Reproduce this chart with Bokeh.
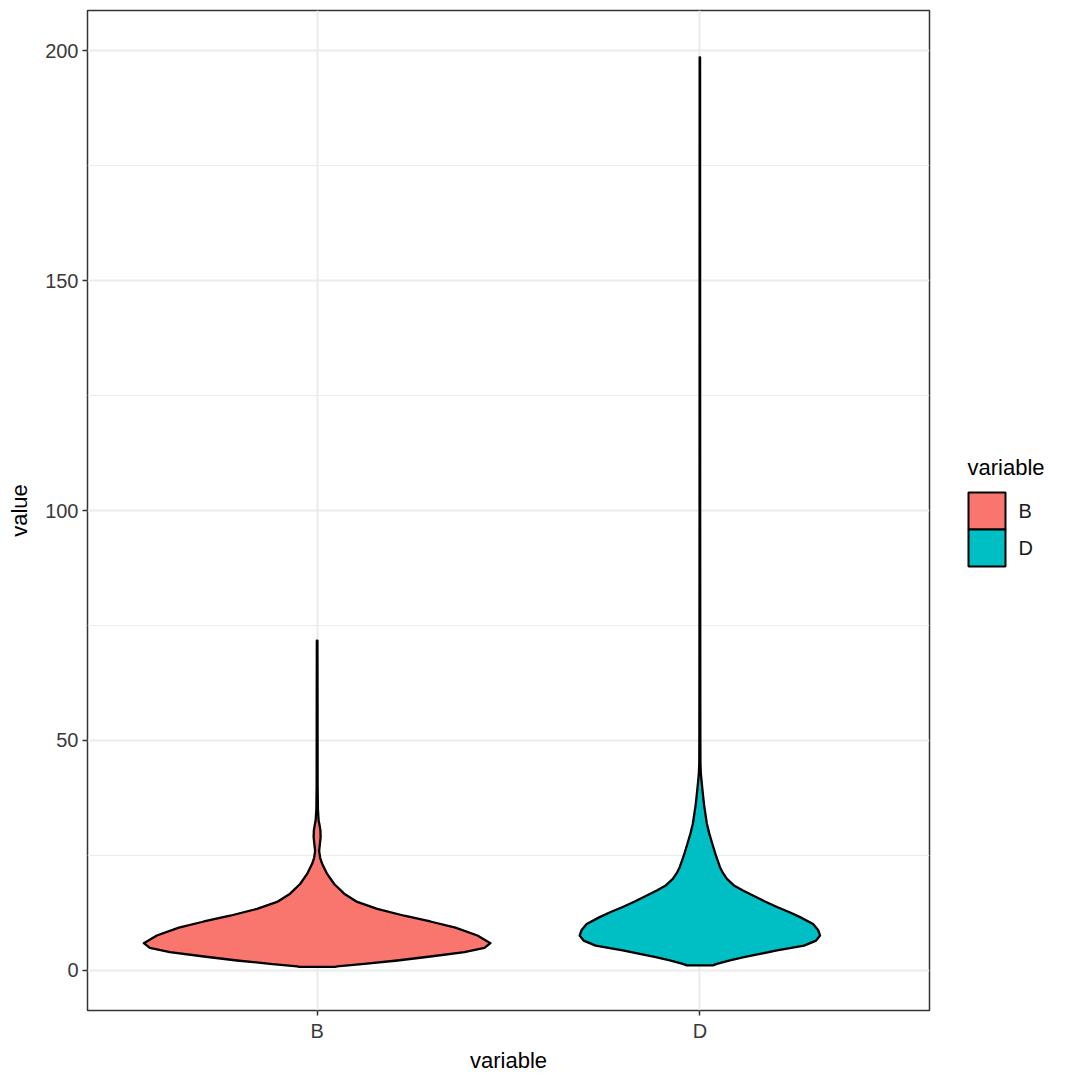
from bokeh.plotting import figure
from bokeh.models import Range1d, FixedTicker, ColumnDataSource
from bokeh.layouts import row
from bokeh.core.properties import value
from bokeh.embed import file_html
from bokeh.resources import INLINE

# ---- data ----
categories = ["B", "D"]
fill_colors = ["#F8766D", "#00BFC4"]
legend_title = "variable"

# violin profile of B: value levels and half-widths (pixels at 382 px per category step)
b_values = [0.8, 0.87, 1.45, 2.17, 3.04, 4.0, 4.9, 5.94, 7.6, 9.3, 10.65, 11.9,
            13.4, 14.9, 16.7, 18.8, 21.0, 23.2, 24.5, 26.0, 27.5, 29.0, 30.4,
            31.5, 32.6, 35.0, 40.0, 50.0, 60.0, 71.7]
b_halfwidth_px = [18, 20, 47, 80, 113, 147, 167, 173, 160, 138, 113, 87,
                  60, 40, 27, 17, 10, 5, 3, 2, 2.8, 3.5, 3.3,
                  2.5, 1.5, 0.8, 0.5, 0.45, 0.4, 0.3]

# violin profile of D
d_values = [1.1, 1.45, 2.2, 2.9, 3.6, 4.35, 5.4, 6.5, 7.6, 8.8, 10.1, 11.6, 12.7,
            13.8, 15.0, 16.3, 17.4, 18.5, 19.9, 21.2, 22.5, 25.0, 27.5, 29.7,
            31.9, 34.1, 36.0, 38.4, 40.5, 42.8, 45.0, 50.0, 70.0, 100.0, 150.0, 198.5]
d_halfwidth_px = [13, 17, 30, 44, 60, 77, 104, 116, 120, 118, 113, 100, 89,
                  77, 65, 53, 43, 34, 27, 23, 20, 16, 12.5, 9.5,
                  7, 5.5, 4.2, 3, 2, 1, 0.6, 0.5, 0.4, 0.3, 0.25, 0.2]

PX_PER_UNIT = 382.0
b_halfwidth = [w / PX_PER_UNIT for w in b_halfwidth_px]
d_halfwidth = [w / PX_PER_UNIT for w in d_halfwidth_px]

y_ticks = [0, 50, 100, 150, 200]
y_minor = [25, 75, 125, 175]

FONT = "Liberation Sans"
MAIN_W = 932
LEG_W = 1080 - MAIN_W
FRAME_TOP = 10
FRAME_BOTTOM = 1010

p = figure(width=MAIN_W, height=1080, output_backend="svg", toolbar_location=None,
           x_range=Range1d(0.4, 2.6), y_range=Range1d(-8.7, 208.7),
           min_border_left=87, min_border_right=3, min_border_top=FRAME_TOP,
           min_border_bottom=1080 - FRAME_BOTTOM, x_axis_label="variable",
           y_axis_label="value")
p.background_fill_color = "white"
p.border_fill_color = "white"
p.outline_line_color = "#333333"
p.outline_line_width = 1.5

profiles = [(b_values, b_halfwidth), (d_values, d_halfwidth)]
for i, (cat, col, (vals, hws)) in enumerate(zip(categories, fill_colors, profiles)):
    center = i + 1
    xs = [center - w for w in hws] + [center + w for w in reversed(hws)]
    ys = list(vals) + list(reversed(vals))
    src = ColumnDataSource(dict(x=xs, y=ys))
    p.patch("x", "y", source=src, fill_color=col, line_color="black",
            line_width=2.3, line_join="round")

# axes
p.xaxis.ticker = FixedTicker(ticks=[1, 2])
p.xaxis.major_label_overrides = {1: "B", 2: "D"}
p.yaxis.ticker = FixedTicker(ticks=y_ticks, minor_ticks=y_minor)
for ax in (p.xaxis[0], p.yaxis[0]):
    ax.axis_line_color = None
    ax.major_tick_line_color = "#333333"
    ax.major_tick_line_width = 1.5
    ax.major_tick_out = 5
    ax.major_tick_in = 0
    ax.minor_tick_line_color = None
    ax.major_label_text_font = FONT
    ax.major_label_text_font_size = "20px"
    ax.major_label_text_color = "#3a3a3a"
    ax.axis_label_text_font = FONT
    ax.axis_label_text_font_size = "22px"
    ax.axis_label_text_font_style = "normal"
    ax.axis_label_text_color = "black"
p.xaxis.major_label_standoff = 4
p.xaxis.axis_label_standoff = 3
p.yaxis.major_label_standoff = 4
p.yaxis.axis_label_standoff = 10

# grid
p.xgrid.ticker = FixedTicker(ticks=[1, 2])
p.xgrid.grid_line_color = "#EBEBEB"
p.xgrid.grid_line_width = 2
p.ygrid.grid_line_color = "#EBEBEB"
p.ygrid.grid_line_width = 2
p.ygrid.minor_grid_line_color = "#EBEBEB"
p.ygrid.minor_grid_line_width = 1

# ---- legend panel (its frame is aligned with the main frame; pixel coords, y downward) ----
leg = figure(width=LEG_W, height=1080, output_backend="svg", toolbar_location=None,
             x_range=Range1d(0, LEG_W), y_range=Range1d(FRAME_BOTTOM, FRAME_TOP),
             x_axis_location=None, y_axis_location=None,
             min_border_left=0, min_border_right=0, min_border_top=FRAME_TOP,
             min_border_bottom=1080 - FRAME_BOTTOM, outline_line_color=None)
leg.grid.visible = False
leg.background_fill_color = "white"
leg.border_fill_color = "white"

key_left = 968 - MAIN_W
key_size = 37
key_top0 = 492
tops = [key_top0 + k * key_size for k in range(len(categories))]
leg.quad(left=[key_left] * len(categories), right=[key_left + key_size] * len(categories),
         top=tops, bottom=[t + key_size for t in tops], fill_color=fill_colors,
         line_color="black", line_width=2)
leg.text(x=[key_left + key_size + 13] * len(categories),
         y=[t + key_size / 2 for t in tops], text=categories,
         text_font=value(FONT), text_font_size="20px", text_color="#1a1a1a",
         text_baseline="middle", text_align="left")
leg.text(x=[key_left - 1], y=[467], text=[legend_title],
         text_font=value(FONT), text_font_size="22px", text_color="black",
         text_baseline="middle", text_align="left")

open("out.html", "w").write(file_html(row(p, leg), INLINE))
